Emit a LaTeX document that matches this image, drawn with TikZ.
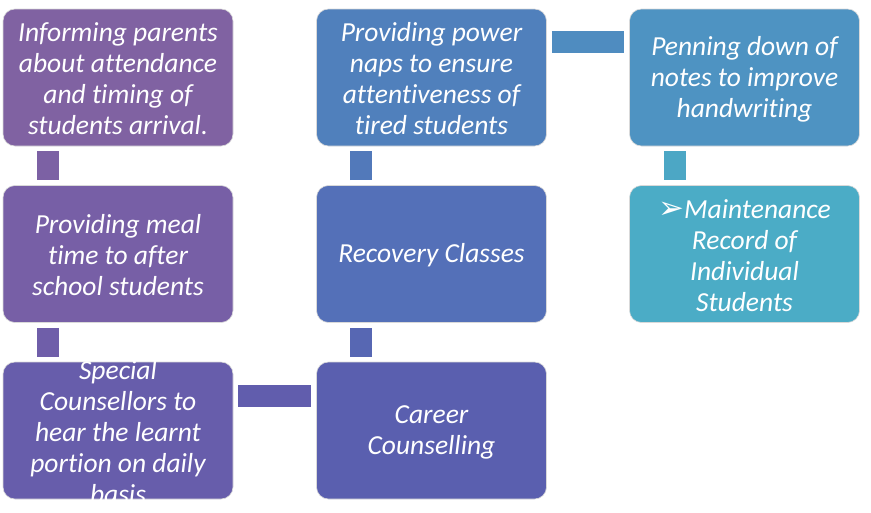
\documentclass[tikz,border=0pt]{standalone}
\usepackage{fontspec}
\setmainfont{Carlito}[Ligatures={NoCommon}]
\newfontfamily\symfont{DejaVu Sans}
\usetikzlibrary{calc}
\definecolor{cA}{HTML}{8062A2}
\definecolor{cB}{HTML}{775FA6}
\definecolor{cC}{HTML}{675DAB}
\definecolor{cD}{HTML}{5A5FAF}
\definecolor{cE}{HTML}{5470B8}
\definecolor{cF}{HTML}{5080BC}
\definecolor{cG}{HTML}{4E93C2}
\definecolor{cH}{HTML}{4BACC6}
\definecolor{kAB}{HTML}{7C61A4}
\definecolor{kBC}{HTML}{6F5EA9}
\definecolor{kCD}{HTML}{615DAD}
\definecolor{kDE}{HTML}{5767B3}
\definecolor{kEF}{HTML}{5279BA}
\definecolor{kFG}{HTML}{4F8CC0}
\definecolor{kGH}{HTML}{4CA7C5}
\tikzset{
  card/.style={draw=white!85!black, line width=0.6pt, rounded corners=12pt,
    minimum width=230pt, minimum height=137pt, inner sep=0pt},
  cardtext/.style={inner sep=0pt, align=center, text=white,
    font=\fontsize{27.5}{31}\selectfont\itshape},
  conn/.style={line width=22pt, line cap=butt}
}
\begin{document}
\begin{tikzpicture}[x=1pt,y=-1pt]
\useasboundingbox (0,0) rectangle (871,512);
\node[card, fill=cA] (n1) at (118,77.5) {};
\node[card, fill=cB] (n2) at (118,254) {};
\node[card, fill=cC] (n3) at (118,430.5) {};
\node[card, fill=cD] (n4) at (431.5,430.5) {};
\node[card, fill=cE] (n5) at (431.5,254) {};
\node[card, fill=cF] (n6) at (431.5,77.5) {};
\node[card, fill=cG] (n7) at (744.5,77.5) {};
\node[card, fill=cH] (n8) at (744.5,254) {};
\node[cardtext] (t1) at ($(n1.center)+(0,1.5)$) {Informing parents\\about attendance\\and timing of\\students arrival.};
\node[cardtext] (t2) at ($(n2.center)+(0,1.5)$) {Providing meal\\time to after\\school students};
\node[cardtext] (t3) at ($(n3.center)+(0,1.5)$) {Special\\Counsellors to\\hear the learnt\\portion on daily\\basis};
\node[cardtext] (t4) at ($(n4.center)+(0,1.5)$) {Career\\Counselling};
\node[cardtext] (t5) at ($(n5.center)+(0,1.5)$) {Recovery Classes};
\node[cardtext] (t6) at ($(n6.center)+(0,1.5)$) {Providing power\\naps to ensure\\attentiveness of\\tired students};
\node[cardtext] (t7) at ($(n7.center)+(0,1.5)$) {Penning down of\\notes to improve\\handwriting};
\node[cardtext] (t8) at ($(n8.center)+(0,1.5)$) {{\symfont\upshape\fontsize{31}{31}\selectfont ➢}Maintenance\\Record of\\Individual\\Students};
% connectors
\draw[conn, kAB] ($(n1.south west)+(45,5)$) -- ($(n2.north west)+(45,-5)$);
\draw[conn, kBC] ($(n2.south west)+(45,5)$) -- ($(n3.north west)+(45,-5)$);
\draw[conn, kCD] ($(n3.north east)+(5,34)$) -- ($(n4.north west)+(-5,34)$);
\draw[conn, kDE] ($(n4.north west)+(45,-5)$) -- ($(n5.south west)+(45,5)$);
\draw[conn, kEF] ($(n5.north west)+(45,-5)$) -- ($(n6.south west)+(45,5)$);
\draw[conn, kFG] ($(n6.north east)+(5,33)$) -- ($(n7.north west)+(-5,33)$);
\draw[conn, kGH] ($(n7.south west)+(46,5)$) -- ($(n8.north west)+(46,-5)$);
\end{tikzpicture}
\end{document}
